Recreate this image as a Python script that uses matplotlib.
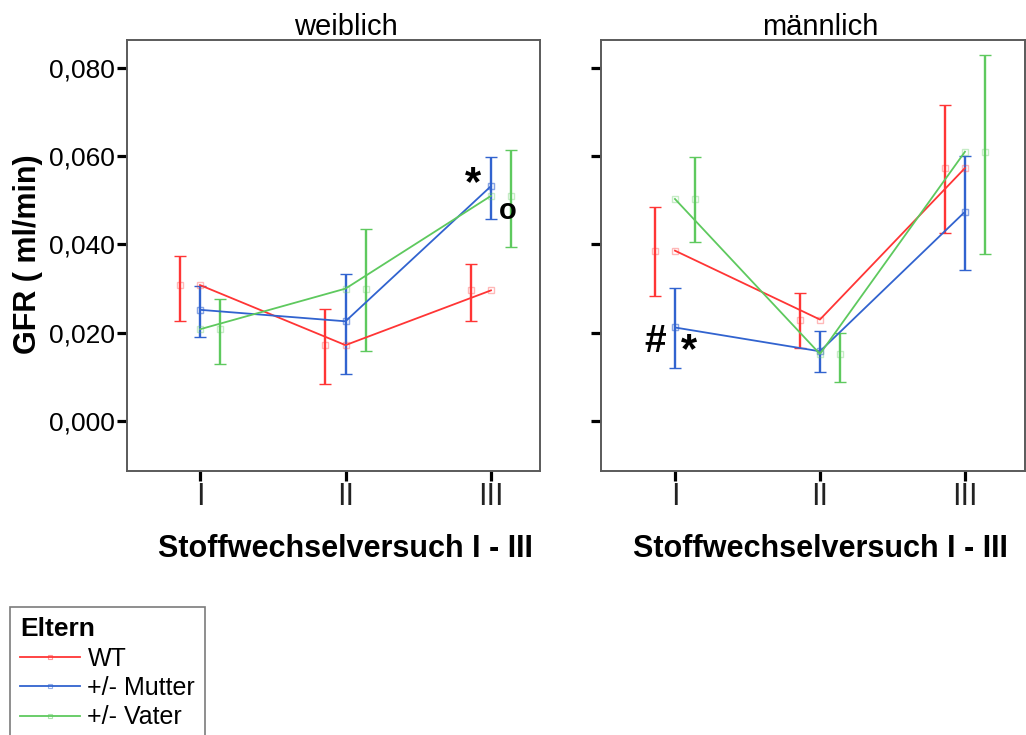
import numpy as np
import matplotlib
matplotlib.use("Agg")
import matplotlib.pyplot as plt
from matplotlib.lines import Line2D

plt.rcParams['font.family'] = ['Liberation Sans', 'DejaVu Sans']

# Stoffwechselversuch I - III
versuche = ['I', 'II', 'III']
gruppen = ['WT', '+/- Mutter', '+/- Vater']
farben = ['#ff3535', '#3163cf', '#5ec95e']

# weiblich: mean, lower, upper (GFR ml/min)
w_mean = {'WT': [0.0308, 0.0172, 0.0296],
          '+/- Mutter': [0.0252, 0.0226, 0.0532],
          '+/- Vater': [0.0208, 0.0300, 0.0510]}
w_lo = {'WT': [0.0227, 0.0084, 0.0227],
        '+/- Mutter': [0.0191, 0.0107, 0.0458],
        '+/- Vater': [0.0129, 0.0159, 0.0395]}
w_hi = {'WT': [0.0374, 0.0254, 0.0356],
        '+/- Mutter': [0.0307, 0.0333, 0.0597],
        '+/- Vater': [0.0276, 0.0435, 0.0614]}

# männlich
m_mean = {'WT': [0.0386, 0.0230, 0.0573],
          '+/- Mutter': [0.0212, 0.0158, 0.0474],
          '+/- Vater': [0.0503, 0.0152, 0.0610]}
m_lo = {'WT': [0.0284, 0.0165, 0.0427],
        '+/- Mutter': [0.0120, 0.0112, 0.0343],
        '+/- Vater': [0.0405, 0.0089, 0.0378]}
m_hi = {'WT': [0.0485, 0.0289, 0.0715],
        '+/- Mutter': [0.0302, 0.0204, 0.0601],
        '+/- Vater': [0.0597, 0.0199, 0.0828]}

yticks = [0.0, 0.02, 0.04, 0.06, 0.08]
ytick_labels = ['0,000', '0,020', '0,040', '0,060', '0,080']


def pale(c, a=0.35):
    return matplotlib.colors.to_rgba(c, a)


def draw_panel(ax, means, los, his, title, xlim):
    x = np.arange(1, len(versuche) + 1)
    offsets = [-0.1375, 0.0, 0.1375]
    for g, c, off in zip(gruppen, farben, offsets):
        m = np.array(means[g])
        lo = np.array(los[g])
        hi = np.array(his[g])
        ax.errorbar(x + off, m, yerr=[m - lo, hi - m], fmt='s', ms=4,
                    mfc='none', mec=pale(c), mew=1, ecolor=c,
                    elinewidth=1.7, capsize=4, capthick=1.7, zorder=2)
        ax.plot(x, m, color=c, lw=1.3, marker='s', ms=4, mfc='none',
                mec=pale(c), mew=1, zorder=3)
    ax.set_xlim(*xlim)
    ax.set_ylim(-0.0113, 0.0863)
    ax.set_xticks(x)
    ax.set_xticklabels(versuche, fontsize=22, color='#222222')
    ax.set_yticks(yticks)
    ax.tick_params(axis='both', length=7, width=2.3, color='black',
                   direction='out')
    ax.tick_params(axis='x', pad=1)
    ax.tick_params(axis='y', pad=1.5)
    for s in ax.spines.values():
        s.set_color('#5a5a5a')
        s.set_linewidth(1.4)
    ax.text(2, 1.012, title, fontsize=21, ha='center', va='baseline',
            transform=ax.get_xaxis_transform())
    ax.text(2, -0.181, 'Stoffwechselversuch I - III', fontsize=22,
            fontweight='bold', ha='center', va='center',
            transform=ax.get_xaxis_transform())


fig = plt.figure(figsize=(10.26, 7.35), dpi=100)
ax1 = fig.add_axes([127 / 1026, 1 - 471 / 735, 413 / 1026, 431 / 735])
ax2 = fig.add_axes([601 / 1026, 1 - 471 / 735, 424 / 1026, 431 / 735])

draw_panel(ax1, w_mean, w_lo, w_hi, 'weiblich', (0.498, 3.337))
draw_panel(ax2, m_mean, m_lo, m_hi, 'männlich', (0.490, 3.414))

ax1.set_yticklabels(ytick_labels, fontsize=19)
ax2.set_yticklabels([])

fig.text(28 / 1026, 1 - 254 / 735, 'GFR ( ml/min)', rotation=90,
         fontsize=22, fontweight='bold', ha='center', va='center')

# Signifikanz-Markierungen
ax1.text(2.876, 0.0546, '*', fontsize=30, fontweight='bold',
         ha='center', va='center_baseline')
ax1.text(3.117, 0.0483, 'o', fontsize=21, fontweight='bold',
         ha='center', va='center_baseline')
ax2.text(0.862, 0.0188, '#', fontsize=28, fontweight='bold',
         ha='center', va='center_baseline')
ax2.text(1.097, 0.0168, '*', fontsize=30, fontweight='bold',
         ha='center', va='center_baseline')

handles = [Line2D([0], [0], color=c, lw=1.3, marker='s', ms=3,
                  mfc='none', mec=pale(c, 0.5), mew=0.8) for c in farben]
leg = fig.legend(handles, gruppen, title='Eltern', loc='upper left',
                 bbox_to_anchor=(10 / 1026, 1 - 607 / 735), fontsize=18,
                 title_fontproperties={'weight': 'bold', 'size': 19},
                 alignment='left', frameon=True, fancybox=False,
                 handlelength=2.4, handletextpad=0.3, labelspacing=0.22,
                 borderpad=0.4, borderaxespad=0, numpoints=1)
leg.get_frame().set_edgecolor('#5a5a5a')
leg.get_frame().set_linewidth(1.2)

fig.savefig('out.png', dpi=100)
